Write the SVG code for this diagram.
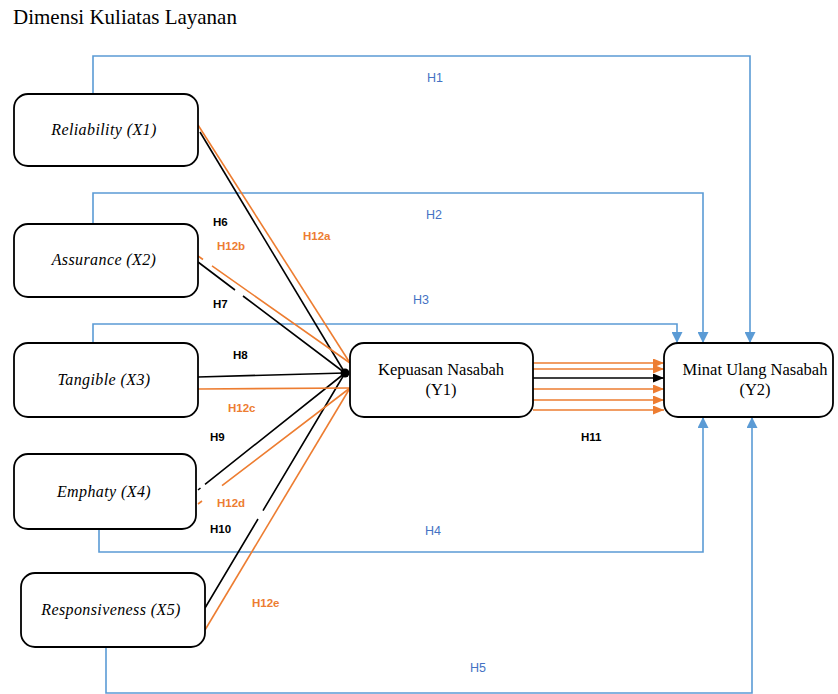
<svg xmlns="http://www.w3.org/2000/svg" width="838" height="694" viewBox="0 0 838 694">
<style>
.box{fill:#fff;stroke:#000;stroke-width:1.8}
.nt{font-family:"Liberation Serif",serif;font-style:italic;font-size:16px;letter-spacing:0.4px;fill:#000;text-anchor:middle}
.yt{font-family:"Liberation Serif",serif;font-size:16.5px;fill:#000;text-anchor:middle}
.blue{fill:none;stroke:#5B9BD5;stroke-width:1.6}
.blk{fill:none;stroke:#000;stroke-width:1.6}
.org{fill:none;stroke:#ED7D31;stroke-width:1.6}
.lb{font-family:"Liberation Sans",Arial,sans-serif;font-weight:bold;font-size:11.5px;fill:#000}
.lo{font-family:"Liberation Sans",Arial,sans-serif;font-weight:bold;font-size:11.5px;fill:#ED7D31}
.lh{font-family:"Liberation Sans",Arial,sans-serif;font-size:12.5px;fill:#4472C4}
</style>
<defs>
<marker id="ab" markerUnits="userSpaceOnUse" markerWidth="11" markerHeight="11" refX="11" refY="5.5" orient="auto" viewBox="0 0 11 11"><path d="M0,0 L11,5.5 L0,11 z" fill="#5B9BD5"/></marker>
<marker id="ao" markerUnits="userSpaceOnUse" markerWidth="11" markerHeight="9" refX="11" refY="4.5" orient="auto" viewBox="0 0 11 9"><path d="M0,0 L11,4.5 L0,9 z" fill="#ED7D31"/></marker>
<marker id="ak" markerUnits="userSpaceOnUse" markerWidth="11" markerHeight="9" refX="11" refY="4.5" orient="auto" viewBox="0 0 11 9"><path d="M0,0 L11,4.5 L0,9 z" fill="#000"/></marker>
</defs>
<rect width="838" height="694" fill="#fff"/>
<text x="13" y="24" font-family="Liberation Serif,serif" font-size="21" fill="#000">Dimensi Kuliatas Layanan</text>

<g id="connectors">
<path class="blue" d="M93,94 V56 H750 V343" marker-end="url(#ab)"/>
<path class="blue" d="M93,224 V193 H703 V343" marker-end="url(#ab)"/>
<path class="blue" d="M93,343 V324 H677 V343" marker-end="url(#ab)"/>
<path class="blue" d="M99,529 V552 H703 V417" marker-end="url(#ab)"/>
<path class="blue" d="M106,647 V693 H752 V417" marker-end="url(#ab)"/>
<path class="blk" d="M200,132 L345,373"/>
<path class="blk" d="M198,262 L235,290 M243,296 L345,373"/>
<path class="blk" d="M198,377 L345,373"/>
<path class="blk" d="M198,490 L200.5,488 M205,484.4 L345,373"/>
<path class="blk" d="M205,608 L258,519 M263,510.6 L345,373"/>
<circle cx="345" cy="373" r="4.5" fill="#000"/>
<path class="org" d="M198,125 L350,363"/>
<path class="org" d="M198,256 L203,259.5 M212,265.9 L350,363"/>
<path class="org" d="M198,389 L350,388"/>
<path class="org" d="M198,504 L202,501 M222,485.7 L350,388"/>
<path class="org" d="M205,630 L350,388"/>
<path class="org" d="M533,363 H664" marker-end="url(#ao)"/>
<path class="org" d="M533,369 H664" marker-end="url(#ao)"/>
<path class="blk" d="M533,378 H664" marker-end="url(#ak)"/>
<path class="org" d="M533,389 H664" marker-end="url(#ao)"/>
<path class="org" d="M533,400 H664" marker-end="url(#ao)"/>
<path class="org" d="M533,410 H664" marker-end="url(#ao)"/>
<text class="lh" x="427" y="82">H1</text>
<text class="lh" x="426" y="219">H2</text>
<text class="lh" x="413" y="304">H3</text>
<text class="lh" x="425" y="535">H4</text>
<text class="lh" x="470" y="672">H5</text>
<text class="lb" x="213" y="226">H6</text>
<text class="lb" x="213" y="308">H7</text>
<text class="lb" x="233" y="359">H8</text>
<text class="lb" x="210" y="441">H9</text>
<text class="lb" x="210" y="533">H10</text>
<text class="lb" x="581" y="441">H11</text>
<text class="lo" x="303" y="240">H12a</text>
<text class="lo" x="217" y="250">H12b</text>
<text class="lo" x="228" y="412">H12c</text>
<text class="lo" x="217" y="507">H12d</text>
<text class="lo" x="252" y="607">H12e</text>
</g>

<g id="x1"><rect class="box" x="14" y="94" width="184" height="72" rx="14"/><text class="nt" x="104" y="135">Reliability (X1)</text></g>
<g id="x2"><rect class="box" x="14" y="224" width="184" height="73" rx="14"/><text class="nt" x="104" y="265">Assurance (X2)</text></g>
<g id="x3"><rect class="box" x="14" y="343" width="184" height="74" rx="14"/><text class="nt" x="104" y="385">Tangible (X3)</text></g>
<g id="x4"><rect class="box" x="14" y="454" width="182" height="75" rx="14"/><text class="nt" x="104" y="497">Emphaty (X4)</text></g>
<g id="x5"><rect class="box" x="21" y="573" width="184" height="74" rx="14"/><text class="nt" x="111" y="615">Responsiveness (X5)</text></g>
<g id="y1"><rect class="box" x="350" y="343" width="183" height="74" rx="14"/><text class="yt" x="441" y="375">Kepuasan Nasabah</text><text class="yt" x="441" y="395">(Y1)</text></g>
<g id="y2"><rect class="box" x="664" y="343" width="169" height="74" rx="14"/><text class="yt" x="755" y="375">Minat Ulang Nasabah</text><text class="yt" x="755" y="395">(Y2)</text></g>
</svg>
